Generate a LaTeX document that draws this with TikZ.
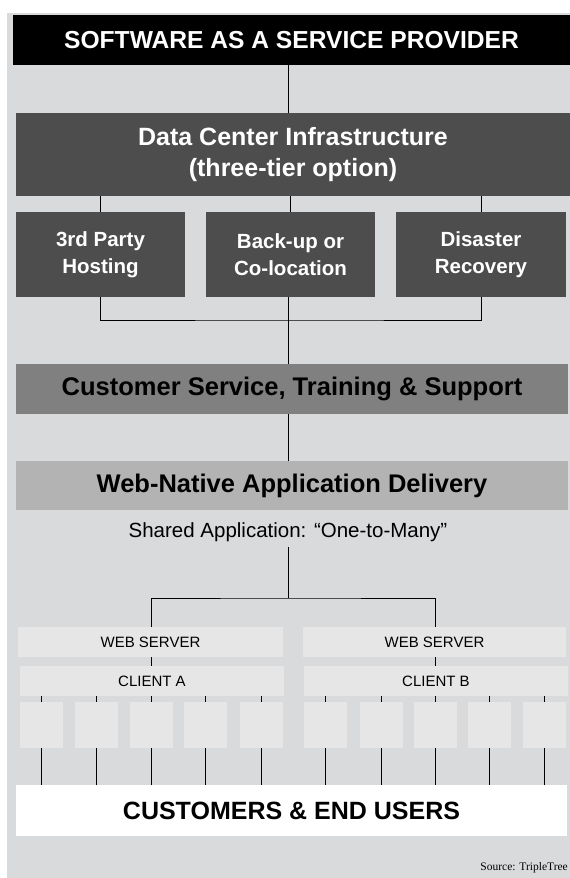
\documentclass[tikz,border=0pt]{standalone}
\usepackage{fontspec}
\setmainfont{Liberation Sans}
\newfontfamily\srcfont{Liberation Serif}
\usepackage{tikz}
\definecolor{pagegray}{HTML}{D9DADC}
\definecolor{darkbox}{HTML}{4D4D4D}
\definecolor{midbox}{HTML}{808080}
\definecolor{lightbox}{HTML}{B3B3B3}
\definecolor{palebox}{HTML}{E6E6E6}
\newcommand{\fsz}[2]{\fontsize{#1}{#2}\selectfont}
\tikzset{
  blk/.style={anchor=north west,inner sep=0pt,outer sep=0pt,align=center},
  hdr/.style={blk,fill=darkbox,text=white,font=\bfseries\fsz{20.5}{27}},
  tier/.style={blk,fill=palebox,font=\fsz{15}{18}},
  leaf/.style={fill=palebox,inner sep=0pt,outer sep=0pt,minimum width=43,minimum height=46},
  link/.style={draw=black,line width=0.9pt}
}

\begin{document}
\begin{tikzpicture}[x=1pt,y=-1pt]
  \useasboundingbox (0,0) rectangle (570,878);
  \fill[pagegray] (7,13) rectangle (570,878);
  % provider and data centre
  \node[blk,fill=black,text=white,minimum width=557,minimum height=50,
    font=\bfseries\fsz{24.6}{28}] (saas) at (13,15) {SOFTWARE AS A SERVICE PROVIDER};
  \node[hdr,minimum width=554,minimum height=83,font=\bfseries\fsz{25}{31}]
    (dc) at (16,113) {Data Center Infrastructure\\(three-tier option)};
  \node[hdr,minimum width=169,minimum height=85] (host) at (16,212) {3rd Party\\Hosting};
  \node[hdr,minimum width=169,minimum height=85] (coloc) at (206,212) {Back-up or\\Co-location};
  \node[hdr,minimum width=170,minimum height=85] (recov) at (396,212) {Disaster\\Recovery};
  \coordinate (spine) at (288,0);
  \coordinate (hub) at (288,320);
  \draw[link] (saas.south -| spine) -- (dc.north -| spine);
  \foreach \b in {host,coloc,recov}
    \draw[link] (\b.north |- dc.south) -- (\b.north);
  \draw[link] (host.south) |- (hub) -| (recov.south);
  % delivery
  \node[blk,fill=midbox,minimum width=552,minimum height=50,font=\bfseries\fsz{25.5}{29}]
    (care) at (16,364) {Customer Service, Training \& Support};
  \draw[link] (coloc.south -| spine) -- (care.north -| spine);
  \node[blk,fill=lightbox,minimum width=552,minimum height=49,font=\bfseries\fsz{25.5}{29}]
    (web) at (16,461) {Web-Native Application Delivery};
  \draw[link] (care.south -| spine) -- (web.north -| spine);
  \node[inner sep=0pt,minimum height=30,font=\fsz{20.5}{24}] (shared) at (288,532)
    {Shared Application: “One-to-Many”};
  \coordinate (fork) at (288,598);
  \draw[link] (shared.south) -- (fork);
  % clients
  \node[tier,minimum width=265,minimum height=30] (wsA) at (18,627) {WEB SERVER};
  \node[tier,minimum width=263,minimum height=30] (wsB) at (303,627) {WEB SERVER};
  \node[tier,minimum width=264,minimum height=30] (cliA) at (20,666) {CLIENT A};
  \node[tier,minimum width=264,minimum height=30] (cliB) at (304,666) {CLIENT B};
  \node[blk,fill=white,minimum width=551,minimum height=51,font=\bfseries\fsz{25}{29}]
    (users) at (16,785) {CUSTOMERS \& END USERS};
  \foreach \cx [count=\k] in {41.5,96.5,151,205,261}
    \node[leaf] (a\k) at (\cx,725) {};
  \foreach \cx [count=\k] in {325.5,381,435.5,489.5,544.5}
    \node[leaf] (b\k) at (\cx,725) {};
  \draw[link] (wsA.north -| a3) |- (fork) -| (wsB.north -| b3);
  \draw[link] (wsA.south -| a3) -- (cliA.north -| a3);
  \draw[link] (wsB.south -| b3) -- (cliB.north -| b3);
  \foreach \k in {1,...,5} {
    \draw[link] (cliA.south -| a\k) -- (a\k.north);
    \draw[link] (cliB.south -| b\k) -- (b\k.north);
    \draw[link] (a\k.south) -- (a\k.south |- users.north);
    \draw[link] (b\k.south) -- (b\k.south |- users.north);
  }
  \node[anchor=east,inner sep=0pt,font=\srcfont\fsz{11.5}{13}] (src) at (568,868) {Source: TripleTree};
\end{tikzpicture}
\end{document}
